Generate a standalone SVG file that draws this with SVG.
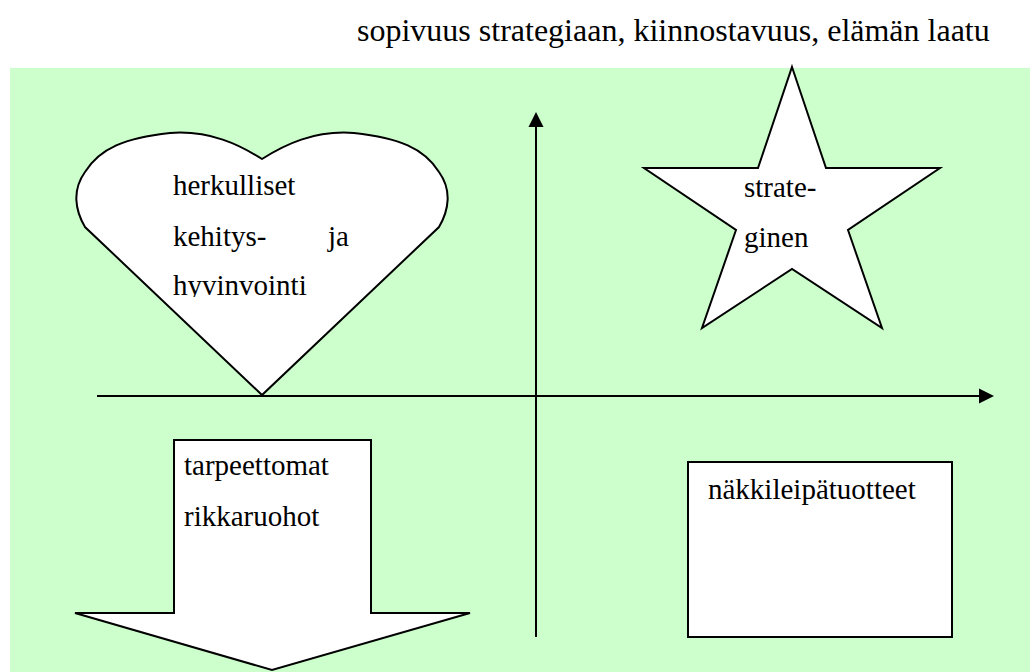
<svg xmlns="http://www.w3.org/2000/svg" width="1030" height="672" viewBox="0 0 1030 672">
<style>
.shape{fill:#ffffff;stroke:#000000;stroke-width:2;stroke-linejoin:miter}
.axis{stroke:#000000;stroke-width:2;fill:none}
.head{fill:#000000;stroke:none}
text{font-family:"Liberation Serif","Times New Roman",serif;fill:#000000}
.lbl{font-size:29px}
.title{font-size:32px}
</style>
<defs>
<clipPath id="heartClip"><rect x="60" y="100" width="400" height="197"/></clipPath>
</defs>
<rect x="0" y="0" width="1030" height="672" fill="#ffffff"/>
<rect id="background" x="10" y="68" width="1020" height="604" fill="#CCFFCC"/>
<text class="title" x="357" y="41">sopivuus strategiaan, kiinnostavuus, elämän laatu</text>
<g id="connectors">
<line class="axis" x1="536" y1="126" x2="536" y2="637"/>
<polygon class="head" points="536,112 528.5,127 543.5,127"/>
<line class="axis" x1="97" y1="396" x2="980" y2="396"/>
<polygon class="head" points="994,396 979,388.5 979,403.5"/>
</g>
<g id="heart">
<path class="shape" d="M262,395 L85,227 C75,210 72,190 85,172 C100,148 125,138 170,133 C210,130 240,145 262,159 C284,145 314,130 354,133 C399,138 424,148 439,172 C452,190 449,210 439,227 Z"/>
<g clip-path="url(#heartClip)">
<text class="lbl" x="173" y="195">herkulliset</text>
<text class="lbl" x="173" y="246">kehitys-</text>
<text class="lbl" x="328" y="246">ja</text>
<text class="lbl" x="173" y="295">hyvinvointi</text>
</g>
</g>
<g id="star">
<polygon class="shape" points="792,67 826,168 940,168 848,230 882,328 792,269 702,328 736,230 644,168 758,168"/>
<text class="lbl" x="744" y="197">strate-</text>
<text class="lbl" x="744" y="247">ginen</text>
</g>
<g id="down-arrow">
<polygon class="shape" points="174,440 371,440 371,613 470,613 272,670 75,613 174,613"/>
<text class="lbl" x="184" y="475">tarpeettomat</text>
<text class="lbl" x="184" y="526">rikkaruohot</text>
</g>
<g id="rectangle">
<rect class="shape" x="688" y="462" width="264" height="175"/>
<text class="lbl" x="708" y="499">näkkileipätuotteet</text>
</g>
</svg>
